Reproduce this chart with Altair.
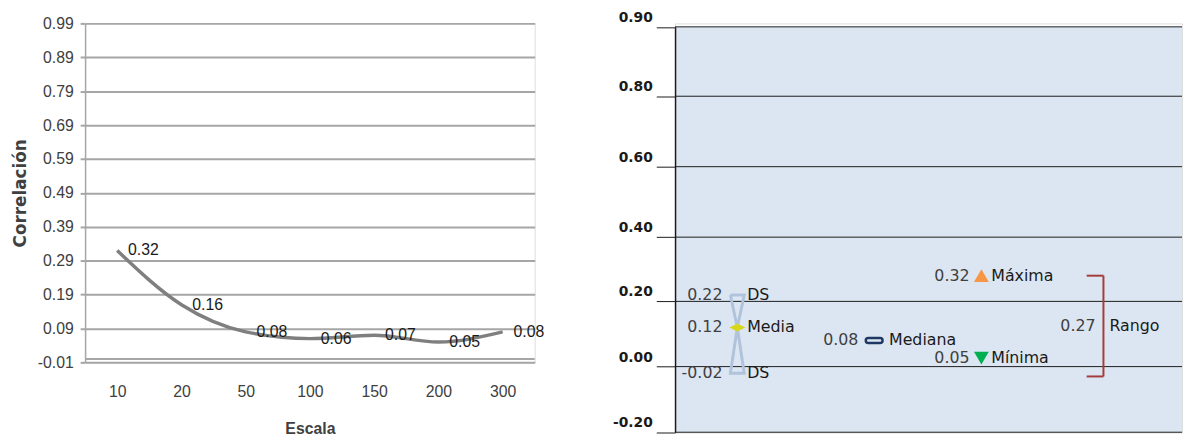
import altair as alt
import pandas as pd

# ---------------- data: left panel ----------------
escala = ["10", "20", "50", "100", "150", "200", "300"]
correlacion = [0.32, 0.16, 0.08, 0.06, 0.07, 0.05, 0.08]
left_ticks = [-0.01, 0.09, 0.19, 0.29, 0.39, 0.49, 0.59, 0.69, 0.79, 0.89, 0.99]
left_baseline = [0.0]

# ---------------- data: right panel ----------------
right_ticks = [-0.20, 0.00, 0.20, 0.40, 0.60, 0.80, 0.90]
stat_names = ["DS", "Media", "DS", "Mediana", "Máxima", "Mínima"]
stat_values = [0.22, 0.12, -0.02, 0.08, 0.32, 0.05]
stat_groups = ["DS", "DS", "DS", "Mediana", "Máxima", "Mínima"]
group_order = ["DS", "Mediana", "Extremos", "Rango"]
rango_value = 0.27
rango_label = "Rango"
rango_span = [0.28, -0.03]

NARROW = "Liberation Sans Narrow, Liberation Sans, Arial, sans-serif"
WIDE = "DejaVu Sans, Verdana, sans-serif"
FMT = "replace(format(datum.value, '.2f'), '\u2212', '-')"

# ================= LEFT CHART =================
left_df = pd.DataFrame({"escala": escala, "corr": correlacion})
base_df = pd.DataFrame({"y": left_baseline})

yL_scale = alt.Scale(domain=[min(left_ticks), max(left_ticks)], nice=False, zero=False)
yL_axis = alt.Axis(
    values=left_ticks, labelExpr=FMT, title="Correlación",
    labelFont=NARROW, labelFontSize=16, labelColor="#404040", labelPadding=7,
    tickSize=5, tickColor="#a6a6a6", tickWidth=2,
    domainColor="#a6a6a6", domainWidth=1.5,
    grid=True, gridColor="#a6a6a6", gridWidth=2,
    titleFont=WIDE, titleFontSize=17, titleFontWeight="bold", titleColor="#404040",
    titlePadding=8,
)
xL = alt.X(
    "escala:N", sort=escala, scale=alt.Scale(type="point", padding=0.5),
    axis=alt.Axis(
        title="Escala", labelAngle=0, labelFont=NARROW, labelFontSize=16,
        labelColor="#404040", labelPadding=22, ticks=False, tickSize=0, domain=False,
        titleFont=NARROW, titleFontSize=16, titleFontWeight="bold", titleColor="#404040",
        titlePadding=21,
    ),
)

rule0 = alt.Chart(base_df).mark_rule(color="#a6a6a6", strokeWidth=2).encode(
    y=alt.Y("y:Q", scale=yL_scale, axis=yL_axis)
)
line = alt.Chart(left_df).mark_line(color="#7f7f7f", strokeWidth=3.5, interpolate="monotone").encode(
    x=xL, y=alt.Y("corr:Q", scale=yL_scale, axis=yL_axis)
)
ltext = alt.Chart(left_df).transform_calculate(
    lbl="replace(format(datum.corr, '.2f'), '\u2212', '-')"
).mark_text(
    align="left", baseline="middle", dx=11, font=NARROW, fontSize=16, color="#1a1a1a"
).encode(x=xL, y=alt.Y("corr:Q", scale=yL_scale, axis=yL_axis), text="lbl:N")

left = alt.layer(rule0, line, ltext).properties(width=455, height=343)

# ================= RIGHT CHART =================
stats_df = pd.DataFrame({"name": stat_names, "value": stat_values, "grp": stat_groups})
stats_df["col"] = stats_df["grp"].replace({"Máxima": "Extremos", "Mínima": "Extremos"})

yR_scale = alt.Scale(domain=sorted(right_ticks),
                     range=[413.7, 347.3, 281.3, 216.3, 145, 73.7, 3.5],
                     nice=False, zero=False)
yR_axis = alt.Axis(
    values=right_ticks, labelExpr=FMT, title=None, grid=False,
    labelFont=WIDE, labelFontWeight="bold", labelFontSize=14, labelColor="#1a1a1a",
    labelOffset=-9.5, labelPadding=4, tickSize=19, tickColor="#1a1a1a", tickWidth=1,
    domainColor="#1a1a1a", domainWidth=1.5, zindex=1,
)


def yR(field):
    return alt.Y(field, type="quantitative", scale=yR_scale, axis=yR_axis, title=None)


xR = alt.X("col:N", scale=alt.Scale(type="point", domain=group_order, range=[63, 433.5], padding=0),
           axis=None)

bg_df = pd.DataFrame({"top": [max(right_ticks)], "bottom": [min(right_ticks)]})
bg = alt.Chart(bg_df).mark_rect(color="#dce6f2").encode(
    x=alt.value(0), x2=alt.value("width"), y=yR("top"), y2="bottom:Q"
)
grid_df = pd.DataFrame({"tick": right_ticks})
grid = alt.Chart(grid_df).mark_rule(color="#1a1a1a", strokeWidth=1).encode(
    y=yR("tick"), x=alt.value(0), x2=alt.value("width")
)

# hourglass for DS around the mean
hi, mean, lo = stat_values[0], stat_values[1], stat_values[2]
hour_df = pd.DataFrame({
    "col": ["DS"] * 7,
    "ox": [-1, 1, 0, 1, -1, 0, -1],
    "value": [hi, hi, mean, lo, lo, mean, hi],
    "k": list(range(7)),
})
hour = alt.Chart(hour_df).mark_line(color="#b0c3db", strokeWidth=3, strokeJoin="miter").encode(
    x=xR,
    xOffset=alt.XOffset("ox:Q", scale=alt.Scale(domain=[-1, 1], range=[-7, 7])),
    y=yR("value"),
    order="k:Q",
)

media = alt.Chart(stats_df).transform_filter(alt.datum.name == "Media").mark_point(
    shape="M -1 0 L 0 -0.5 L 1 0 L 0 0.5 Z", size=256, filled=True, color="#d6d61c", opacity=1
).encode(x=xR, y=yR("value"))

MED_SHIFT = 15
mediana = alt.Chart(stats_df).transform_filter(alt.datum.name == "Mediana").mark_point(
    shape="M -0.7 -0.3 L 0.7 -0.3 A 0.3 0.3 0 0 1 0.7 0.3 L -0.7 0.3 A 0.3 0.3 0 0 1 -0.7 -0.3 Z",
    size=289, filled=False, color="#1f3864", strokeWidth=2.5, opacity=1, xOffset=MED_SHIFT
).encode(x=xR, y=yR("value"))

MAX_DY = 13
MIN_DY = 8
maxima = alt.Chart(stats_df).transform_filter(alt.datum.name == "Máxima").mark_point(
    shape="triangle-up", size=225, filled=True, color="#f79646", opacity=1, yOffset=MAX_DY
).encode(x=xR, y=yR("value"))

minima = alt.Chart(stats_df).transform_filter(alt.datum.name == "Mínima").mark_point(
    shape="triangle-down", size=225, filled=True, color="#00b050", opacity=1, yOffset=MIN_DY
).encode(x=xR, y=yR("value"))

TXT = 16


def labels(group, dx_val, dx_name, dy=0):
    b = alt.Chart(stats_df).transform_filter(alt.datum.grp == group).transform_calculate(
        lbl=FMT
    )
    v = b.mark_text(align="right", baseline="middle", dx=dx_val, dy=dy, font=WIDE, fontSize=TXT,
                    color="#404040").encode(x=xR, y=yR("value"), text="lbl:N")
    n = b.mark_text(align="left", baseline="middle", dx=dx_name, dy=dy, font=WIDE, fontSize=TXT,
                    color="#1a1a1a").encode(x=xR, y=yR("value"), text="name:N")
    return [v, n]


rango_df = pd.DataFrame({
    "col": ["Rango"], "top": [rango_span[0]], "bottom": [rango_span[1]],
    "mid": [sum(rango_span) / 2], "val": [rango_value], "label": [rango_label],
})
RED = "#a33d3b"
rv = alt.Chart(rango_df).mark_rule(color=RED, strokeWidth=2).encode(x=xR, y=yR("top"), y2="bottom:Q")
rt = alt.Chart(rango_df).mark_rule(color=RED, strokeWidth=2, x2Offset=-17).encode(
    x=xR, x2=alt.X2("col:N"), y=yR("top"))
rb = alt.Chart(rango_df).mark_rule(color=RED, strokeWidth=2, x2Offset=-17).encode(
    x=xR, x2=alt.X2("col:N"), y=yR("bottom"))
rval = alt.Chart(rango_df).mark_text(align="right", baseline="middle", dx=-8, font=WIDE,
                                     fontSize=TXT, color="#404040").encode(
    x=xR, y=yR("mid"), text=alt.Text("val:Q", format=".2f"))
rlab = alt.Chart(rango_df).mark_text(align="left", baseline="middle", dx=6, font=WIDE,
                                     fontSize=TXT, color="#1a1a1a").encode(
    x=xR, y=yR("mid"), text="label:N")

right_layers = [bg, grid, hour, media, mediana, maxima, minima, rv, rt, rb, rval, rlab]
right_layers += labels("DS", -15, 10)
right_layers += labels("Mediana", -16 + MED_SHIFT, 15 + MED_SHIFT)
right_layers += labels("Máxima", -12, 10, MAX_DY)
right_layers += labels("Mínima", -12, 10, MIN_DY)

right = alt.layer(*right_layers).properties(width=513, height=414)

chart = alt.hconcat(left, right, spacing=142, bounds="flush").properties(
    padding={"left": 3, "top": -1, "right": 0, "bottom": 0}
).configure_view(stroke=None).configure(background="white")

chart.save("out.html", embed_options={"renderer": "svg", "actions": False})
